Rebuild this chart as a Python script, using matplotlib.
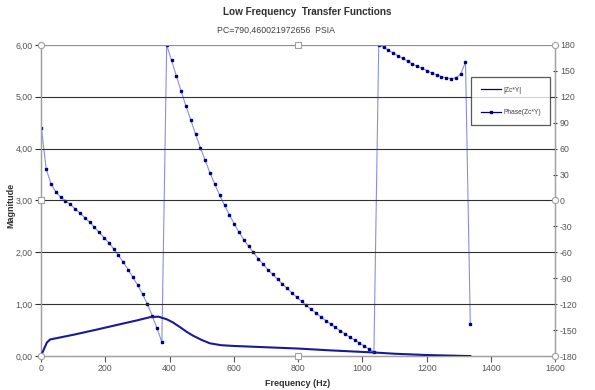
import matplotlib
matplotlib.use("Agg")
import matplotlib.pyplot as plt

# -----------------------------
# Data
# -----------------------------
# Phase(Zc*Y) sampled every 15 Hz (markers)
freq = [1, 16, 31, 46, 61, 76, 91, 106, 121, 136,
        151, 166, 181, 196, 211, 226, 241, 256, 271, 286,
        301, 316, 331, 346, 361, 376, 391, 406, 421, 436,
        451, 466, 481, 496, 511, 526, 541, 556, 571, 586,
        601, 616, 631, 646, 661, 676, 691, 706, 721, 736,
        751, 766, 781, 796, 811, 826, 841, 856, 871, 886,
        901, 916, 931, 946, 961, 976, 991, 1006, 1021, 1036,
        1051, 1066, 1081, 1096, 1111, 1126, 1141, 1156, 1171, 1186,
        1201, 1216, 1231, 1246, 1261, 1276, 1291, 1306, 1321, 1336]
phase = [84, 36.6, 18.9, 10, 3.8, -0.4, -4.6, -9.6, -14.6, -20,
         -25, -31, -37, -43, -49, -56, -63.5, -71.5, -80, -89,
         -98, -108.5, -120, -133.5, -148, -164, 179.8, 162, 144.3, 126.2,
         109.2, 93, 76.4, 61, 46.3, 31.7, 18.6, 5.9, -5.7, -16.5,
         -26.9, -36.6, -45.4, -53.1, -60.1, -67.4, -73.6, -80.1, -85.6, -91.1,
         -96.5, -101.8, -107, -112, -116.8, -121.5, -126, -130.4, -134.7, -138.9,
         -142.9, -146.8, -150.6, -154.4, -158, -161.5, -165, -168.4, -171.8, -175,
         179.8, 177, 173.9, 170.4, 167.4, 164.3, 161.3, 157.8, 155.2, 152.9,
         150.2, 147.5, 145.2, 143.3, 141.8, 141, 141.8, 146, 160.1, -143.4]

# |Zc*Y| magnitude
mag_freq = [1, 8, 18, 28, 100, 173, 250, 300, 339, 365,
            391, 410, 432, 455, 474, 500, 526, 560, 600, 700,
            800, 900, 1000, 1040, 1100, 1200, 1300, 1336]
mag = [0.02, 0.12, 0.26, 0.32, 0.41, 0.51, 0.62, 0.69, 0.75, 0.76,
       0.71, 0.65, 0.56, 0.46, 0.39, 0.31, 0.245, 0.21, 0.195, 0.17,
       0.145, 0.11, 0.08, 0.068, 0.045, 0.02, 0.005, 0.0]

mag_ticks = [0, 1, 2, 3, 4, 5, 6]
mag_tick_labels = ["0,00", "1,00", "2,00", "3,00", "4,00", "5,00", "6,00"]
phase_ticks = [-180, -150, -120, -90, -60, -30, 0, 30, 60, 90, 120, 150, 180]
freq_ticks = [0, 200, 400, 600, 800, 1000, 1200, 1400, 1600]

# -----------------------------
# Style
# -----------------------------
plt.rcParams['font.family'] = ['Liberation Sans', 'DejaVu Sans']
tick_col = "#555555"
axis_col = "#a0a0a0"
navy = "#000080"

fig = plt.figure(figsize=(5.95, 3.9), dpi=100)
ax = fig.add_axes([0.069, 0.087, 0.864, 0.798])
ax2 = ax.twinx()

# gridlines on magnitude axis
for v in mag_ticks[1:-1]:
    ax.axhline(v, color="#303030", lw=0.8, zorder=0)
ax.axhline(mag_ticks[-1], color="#909090", lw=0.9, zorder=0)

# phase series (light connecting line, dark square markers)
ax2.plot(freq, phase, color="#8c8ce6", lw=0.8, zorder=2)
ax2.plot(freq, phase, ls="none", marker="s", ms=1.9, color=navy,
         mec=navy, zorder=3)
# magnitude series
ax.plot(mag_freq, mag, color="#1a1a96", lw=1.5, zorder=4)
ax.set_zorder(ax2.get_zorder() + 1)
ax.patch.set_visible(False)

ax.set_xlim(0, 1600)
ax.set_ylim(0, 6)
ax2.set_ylim(-180, 180)

ax.set_xticks(freq_ticks)
ax.set_xticklabels([str(v) for v in freq_ticks])
ax.set_yticks(mag_ticks)
ax.set_yticklabels(mag_tick_labels)
ax2.set_yticks(phase_ticks)
ax2.set_yticklabels([str(v) for v in phase_ticks])

for a in (ax, ax2):
    for s in a.spines.values():
        s.set_color(axis_col)
        s.set_linewidth(0.9)
    a.spines["top"].set_visible(False)
ax.tick_params(axis="both", labelsize=6.3, colors=tick_col, length=4,
               width=0.8, direction="out", pad=2)
ax.tick_params(axis="y", color="#303030")
ax2.tick_params(axis="y", labelsize=6.3, colors=tick_col, length=3,
                width=0.8, direction="inout", pad=2, color="#303030")

ax.set_xlabel("Frequency (Hz)", fontsize=6.5, fontweight="bold",
              color="#303030", labelpad=4)
fig.text(0.018, 0.474, "Magnitude", rotation=90, fontsize=6.5,
         fontweight="bold", color="#303030", ha="center", va="center")

fig.text(0.516, 0.968, "Low Frequency  Transfer Functions", fontsize=7.2,
         fontweight="bold", color="#303030", ha="center", va="center")
fig.text(0.464, 0.922, "PC=790,460021972656  PSIA", fontsize=6.3,
         color="#404040", ha="center", va="center")

# Excel selection handles around the plot area
for (hx, hy, m) in [(0, 1, "o"), (0, 0.5, "s"), (0, 0, "o"),
                    (1, 1, "o"), (1, 0.5, "o"), (1, 0, "o"),
                    (0.5, 1, "s"), (0.5, 0, "s")]:
    ax.plot(hx, hy, marker=m, ms=4.5 if m == "o" else 4, mfc="white",
            mec="#a0a0a0", mew=0.8, transform=ax.transAxes,
            clip_on=False, zorder=10)

# legend
h_mag = plt.Line2D([], [], color=navy, lw=0.9)
h_ph = plt.Line2D([], [], color=navy, lw=0.9, marker="s", ms=2.0)
leg = ax.legend([h_mag, h_ph], ["|Zc*Y|", "Phase(Zc*Y)"],
                loc="upper left", bbox_to_anchor=(0.837, 0.896),
                fontsize=4.8, frameon=True, fancybox=False,
                handlelength=3, labelspacing=2.3, borderpad=1.4,
                handletextpad=0.4, borderaxespad=0)
leg.get_frame().set_edgecolor("#303030")
leg.get_frame().set_linewidth(0.9)
for t in leg.get_texts():
    t.set_color("#404040")

fig.savefig("out.png", dpi=100)
